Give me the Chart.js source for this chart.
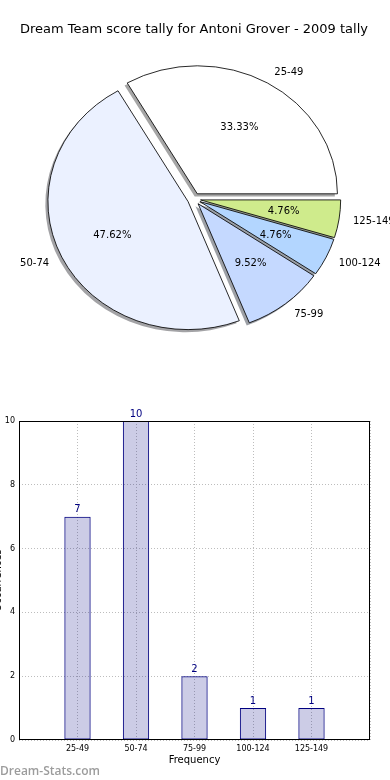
<!DOCTYPE html>
<html><head><meta charset="utf-8">
<script src="https://cdn.jsdelivr.net/npm/chart.js@4.4.1/dist/chart.umd.min.js"></script>
<style>
html,body{margin:0;padding:0;background:#fff;width:390px;height:780px;overflow:hidden;position:relative}
#pie{position:absolute;left:0;top:0}
#bar{position:absolute;left:0;top:380px}
#wm{position:absolute;left:0;top:762px;font:600 12px 'Open Sans';color:#9c9c9c;white-space:nowrap}
</style></head><body>
<canvas id="pie" width="390" height="380"></canvas>
<canvas id="bar" width="390" height="400"></canvas>
<div id="wm">Dream-Stats.com</div>
<script>
const chartTitle = 'Dream Team score tally for Antoni Grover - 2009 tally';
const categories = ['25-49', '50-74', '75-99', '100-124', '125-149'];
const counts = [7, 10, 2, 1, 1];
const pctLabels = ['33.33%', '47.62%', '9.52%', '4.76%', '4.76%'];
const xAxisTitle = 'Frequency';
const yAxisTitle = 'Occurrences';
const sliceColors = ['#ffffff', '#ebf1ff', '#c5d9ff', '#b3d6ff', '#cfeb8c'];

const FONT = "'DejaVu Sans', sans-serif";
const SX = 1.095, EXPLODE = 6, R = 128;

// Chart.js draws clockwise; matplotlib counter-clockwise from 3 o'clock -> reverse order
const order = categories.map((_, i) => i).reverse();

function hexToRgb(h) {
  h = h.replace('#', '');
  return [0, 2, 4].map(k => parseInt(h.substr(k, 2), 16));
}

const piePlugin = {
  id: 'mplPie',
  beforeDatasetDraw(chart) {
    const ctx = chart.ctx;
    const arcs = chart.getDatasetMeta(0).data;
    if (!arcs.length) return false;
    const cx = arcs[0].x, cy = arcs[0].y;
    ctx.save();
    ctx.translate(cx, cy); ctx.scale(SX, 1); ctx.translate(-cx, -cy);
    arcs.forEach(a => {
      const mid = (a.startAngle + a.endAngle) / 2;
      const ox = Math.cos(mid) * EXPLODE - 2.6 / SX, oy = Math.sin(mid) * EXPLODE + 2.6;
      ctx.beginPath();
      ctx.moveTo(a.x + ox, a.y + oy);
      ctx.arc(a.x + ox, a.y + oy, a.outerRadius, a.startAngle, a.endAngle);
      ctx.closePath();
      const c = hexToRgb(a.options.backgroundColor);
      ctx.fillStyle = `rgba(${c.map(v => Math.round(v * 0.3)).join(',')},0.5)`;
      ctx.fill();
    });
    arcs.forEach(a => {
      const mid = (a.startAngle + a.endAngle) / 2;
      ctx.save();
      ctx.translate(Math.cos(mid) * EXPLODE, Math.sin(mid) * EXPLODE);
      a.draw(ctx);
      ctx.restore();
    });
    ctx.restore();
    ctx.save();
    ctx.font = `10px ${FONT}`; ctx.fillStyle = '#000'; ctx.textBaseline = 'middle';
    arcs.forEach((a, k) => {
      const i = order[k];
      const mid = (a.startAngle + a.endAngle) / 2;
      const c = Math.cos(mid), s = Math.sin(mid);
      const ax = cx + SX * c * EXPLODE, ay = cy + s * EXPLODE;
      const r = a.outerRadius;
      ctx.textAlign = c >= 0 ? 'left' : 'right';
      ctx.fillText(categories[i], ax + SX * 1.1 * r * c, ay + 1.1 * r * s + 1);
      ctx.textAlign = 'center';
      ctx.fillText(pctLabels[i], ax + SX * 0.6 * r * c, ay + 0.6 * r * s);
    });
    ctx.restore();
    return false;
  }
};

new Chart(document.getElementById('pie'), {
  type: 'pie',
  data: {
    labels: order.map(i => categories[i]),
    datasets: [{
      data: order.map(i => counts[i]),
      backgroundColor: order.map(i => sliceColors[i]),
      borderColor: '#000',
      borderWidth: 0.8,
      offset: 0
    }]
  },
  options: {
    responsive: false, animation: false, events: [], devicePixelRatio: 1,
    rotation: 90,
    radius: R,
    layout: { padding: { top: 0, right: 2, bottom: 29.6, left: 0 } },
    plugins: {
      legend: { display: false },
      tooltip: { enabled: false },
      title: { display: true, text: chartTitle, color: '#000', font: { family: FONT, size: 13, weight: 'normal' }, padding: { top: 22, bottom: 10 } }
    }
  },
  plugins: [piePlugin]
});

const boxPlugin = {
  id: 'box',
  afterDatasetsDraw(chart) {
    const { ctx, chartArea: ca } = chart;
    ctx.save();
    ctx.strokeStyle = '#000'; ctx.lineWidth = 1;
    ctx.strokeRect(ca.left + 0.5, ca.top + 0.5, ca.right - ca.left - 1, ca.bottom - ca.top - 1);
    ctx.restore();
  }
};
const valuePlugin = {
  id: 'vals',
  afterDatasetsDraw(chart) {
    const ctx = chart.ctx;
    ctx.save();
    ctx.font = `10px ${FONT}`; ctx.fillStyle = '#000080';
    ctx.textAlign = 'center'; ctx.textBaseline = 'bottom';
    chart.getDatasetMeta(0).data.forEach((b, i) => {
      ctx.fillText(String(counts[i]), b.x, b.y - 2);
    });
    ctx.restore();
  }
};

new Chart(document.getElementById('bar'), {
  type: 'bar',
  data: {
    datasets: [{
      data: counts.map((v, i) => ({ x: i, y: v })),
      backgroundColor: 'rgba(0,0,128,0.2)',
      borderColor: '#000080',
      borderWidth: 1,
      borderSkipped: false,
      barPercentage: 0.45,
      categoryPercentage: 1
    }]
  },
  options: {
    responsive: false, animation: false, events: [], devicePixelRatio: 1,
    layout: { padding: { top: 41, right: 20, bottom: 0, left: 0 } },
    plugins: { legend: { display: false }, tooltip: { enabled: false } },
    scales: {
      x: {
        type: 'linear', min: -1, max: 5, offset: false,
        grid: { offset: false, color: '#bdbdbd', lineWidth: 1, drawTicks: false },
        border: { display: false, dash: [1, 2] },
        ticks: { stepSize: 1, autoSkip: false, maxRotation: 0, padding: 4, color: '#000', font: { family: FONT, size: 8 },
          callback: v => (categories[v] !== undefined ? categories[v] : '') },
        title: { display: true, text: xAxisTitle, color: '#000', font: { family: FONT, size: 10 }, padding: { top: 0, bottom: 14 } },
        afterFit(s) { s.height = 40; }
      },
      y: {
        min: 0, max: 10,
        ticks: { stepSize: 2, padding: 4, color: '#000', font: { family: FONT, size: 8 } },
        grid: { color: '#bdbdbd', lineWidth: 1, drawTicks: false },
        border: { display: false, dash: [1, 2] },
        title: { display: true, text: yAxisTitle, color: '#000', font: { family: FONT, size: 10 }, padding: { top: -8, bottom: 0 } },
        afterFit(s) { s.width = 19; }
      }
    }
  },
  plugins: [boxPlugin, valuePlugin]
});
</script>
</body></html>
